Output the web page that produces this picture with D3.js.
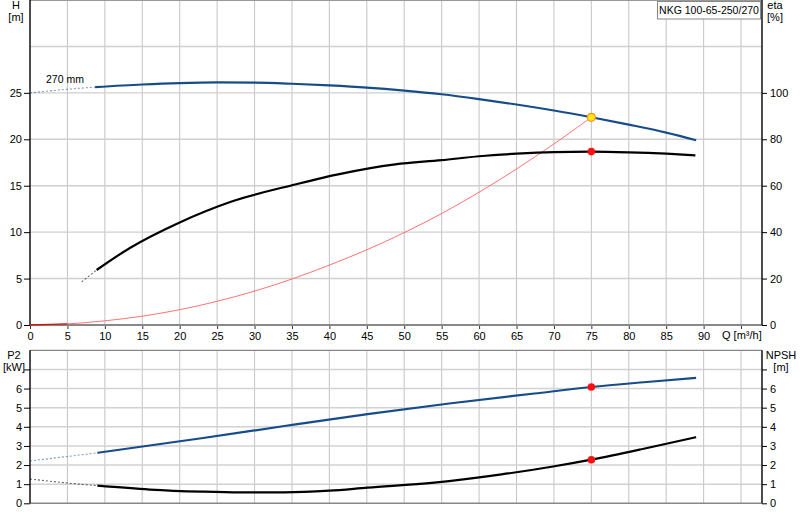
<!DOCTYPE html>
<html><head><meta charset="utf-8">
<script src="https://cdn.jsdelivr.net/npm/d3@7"></script>
<style>
body{margin:0;background:#fff}
text{font-family:"Liberation Sans",Arial,sans-serif;fill:#000}
</style>
</head><body>
<svg id="c" width="800" height="520"></svg>
<script>
// ---------- data ----------
const title = "NKG 100-65-250/270";
const curveLabel = "270 mm";
const qGrid = [5,10,15,20,25,30,35,40,45,50,55,60,65,70,75,80,85,90,95];
const qLabels = [0,5,10,15,20,25,30,35,40,45,50,55,60,65,70,75,80,85,90];
const hTicks = [0,5,10,15,20,25];
const hGrid = [5,10,15,20,25,30];
const etaTicks = [0,20,40,60,80,100];
const lowTicks = [0,1,2,3,4,5,6,7];
const lowLabels = [0,1,2,3,4,5,6];

// pump head H [m]
const headDashQ = [0, 4, 8.7];
const headDashH = [25.0, 25.32, 25.62];
const headQ = [8.7, 15, 20, 25, 30, 35, 40, 45, 50, 55, 60, 65, 70, 75, 80, 85, 89];
const headH = [25.62, 25.9, 26.05, 26.12, 26.1, 25.98, 25.8, 25.57, 25.25, 24.85, 24.33, 23.75, 23.1, 22.37, 21.58, 20.72, 19.89];

// efficiency eta [%]
const etaDashQ = [6.9, 8.9];
const etaDashV = [18.6, 23.7];
const etaQ = [8.9, 13.4, 20, 26.75, 35, 41, 48.8, 55, 60, 65, 70, 75, 80, 85, 88.9];
const etaV = [23.7, 33.3, 44.2, 53.0, 60.2, 64.8, 69.2, 71.0, 72.7, 73.8, 74.5, 74.7, 74.4, 73.8, 73.1];

// system curve H [m]
const sysQ = [0, 5, 10, 15, 20, 25, 30, 35, 40, 45, 50, 55, 60, 65, 70, 75];
const sysH = [0, 0.12, 0.45, 0.95, 1.65, 2.55, 3.65, 4.95, 6.45, 8.1, 9.95, 12.0, 14.3, 16.8, 19.5, 22.37];

// power P2 [kW]
const p2DashQ = [0, 9];
const p2DashV = [2.21, 2.64];
const p2Q = [9, 22.9, 34, 45.1, 56, 67.4, 75, 82, 89];
const p2V = [2.64, 3.40, 4.04, 4.66, 5.22, 5.74, 6.08, 6.33, 6.56];

// NPSH [m]
const npshDashQ = [0, 4.5, 9];
const npshDashV = [1.27, 1.08, 0.92];
const npshQ = [9, 16, 22.9, 28, 34, 40, 45.1, 54, 63, 69.7, 75, 82, 89];
const npshV = [0.92, 0.72, 0.61, 0.57, 0.57, 0.66, 0.82, 1.08, 1.51, 1.91, 2.28, 2.85, 3.46];

// duty point
const dutyQ = [75];
const dutyH = [22.37];
const dutyEta = [74.7];
const dutyP2 = [6.08];
const dutyNpsh = [2.28];

// ---------- layout ----------
const BLUE = "#174c8a";
const svg = d3.select("#c");
const x = d3.scaleLinear().domain([0, 97.8]).range([30, 762]);
const yH = d3.scaleLinear().domain([0, 35]).range([325, 0]);
const yEta = d3.scaleLinear().domain([0, 140]).range([325, 0]);
const yLow = d3.scaleLinear().domain([0, 8]).range([503.3, 350.3]);
const xL = x(0), xR = x(97.8);

const zip = (a, b) => a.map((v, i) => [v, b[i]]);

// ---------- grids ----------
const grid = svg.append("g");
grid.selectAll(".vt").data(qGrid).join("line")
  .attr("x1", d => x(d)).attr("x2", d => x(d))
  .attr("y1", yH(35)).attr("y2", yH(0))
  .attr("stroke", "#c8c8c8").attr("stroke-width", 1.1);
grid.selectAll(".ht").data(hGrid).join("line")
  .attr("x1", xL).attr("x2", xR)
  .attr("y1", d => yH(d)).attr("y2", d => yH(d))
  .attr("stroke", "#cfcfcf").attr("stroke-width", 1.4);
grid.selectAll(".vb").data(qGrid).join("line")
  .attr("x1", d => x(d)).attr("x2", d => x(d))
  .attr("y1", yLow(8)).attr("y2", yLow(0))
  .attr("stroke", "#c8c8c8").attr("stroke-width", 1.1);
grid.selectAll(".hb").data(lowTicks.filter(d => d > 0)).join("line")
  .attr("x1", xL).attr("x2", xR)
  .attr("y1", d => yLow(d)).attr("y2", d => yLow(d))
  .attr("stroke", "#d2d2d2").attr("stroke-width", 1.5);

// borders
svg.append("line").attr("x1", xL).attr("x2", xR).attr("y1", yH(35) + 0.5).attr("y2", yH(35) + 0.5)
  .attr("stroke", "#999").attr("stroke-width", 1.2);
svg.append("line").attr("x1", xL).attr("x2", xR).attr("y1", yLow(8)).attr("y2", yLow(8))
  .attr("stroke", "#888").attr("stroke-width", 1.3);
svg.append("line").attr("x1", xL).attr("x2", xR).attr("y1", yLow(0)).attr("y2", yLow(0))
  .attr("stroke", "#888").attr("stroke-width", 1.5);

// ---------- axes ----------
function styleAxis(g) {
  g.select(".domain").remove();
  g.selectAll(".tick line").attr("stroke", "#000");
  g.selectAll(".tick text").style("font-size", "11px").attr("fill", "#000");
}
// top x axis
const xAxisG = svg.append("g").attr("transform", `translate(0,${yH(0)})`)
  .call(d3.axisBottom(x).tickValues(qGrid.concat([0])).tickSize(4).tickPadding(3)
    .tickFormat(d => qLabels.includes(d) ? d : ""));
styleAxis(xAxisG);
xAxisG.selectAll(".tick line").attr("stroke", "#333");
svg.append("line").attr("x1", xL).attr("x2", xR).attr("y1", yH(0)).attr("y2", yH(0))
  .attr("stroke", "#888").attr("stroke-width", 2);
svg.append("text").attr("x", 722).attr("y", 338.5).style("font-size", "11px").text("Q [m³/h]");

// left H axis
const hAxis = svg.append("g").attr("transform", `translate(${xL},0)`)
  .call(d3.axisLeft(yH).tickValues(hTicks).tickSize(6).tickPadding(2));
styleAxis(hAxis);
svg.append("line").attr("x1", xL).attr("x2", xL).attr("y1", 0).attr("y2", yH(0))
  .attr("stroke", "#000").attr("stroke-width", 1.4);
// right eta axis
const eAxis = svg.append("g").attr("transform", `translate(${xR},0)`)
  .call(d3.axisRight(yEta).tickValues(etaTicks).tickSize(5).tickPadding(3));
styleAxis(eAxis);
svg.append("line").attr("x1", xR).attr("x2", xR).attr("y1", 0).attr("y2", yH(0))
  .attr("stroke", "#000").attr("stroke-width", 1.4);

// bottom left axis
const pAxis = svg.append("g").attr("transform", `translate(${xL},0)`)
  .call(d3.axisLeft(yLow).tickValues(lowTicks).tickSize(6).tickPadding(2)
    .tickFormat(d => lowLabels.includes(d) ? d : ""));
styleAxis(pAxis);
svg.append("line").attr("x1", xL).attr("x2", xL).attr("y1", yLow(8)).attr("y2", yLow(0))
  .attr("stroke", "#000").attr("stroke-width", 1.4);
// bottom right axis
const nAxis = svg.append("g").attr("transform", `translate(${xR},0)`)
  .call(d3.axisRight(yLow).tickValues(lowTicks).tickSize(5).tickPadding(3)
    .tickFormat(d => lowLabels.includes(d) ? d : ""));
styleAxis(nAxis);
svg.append("line").attr("x1", xR).attr("x2", xR).attr("y1", yLow(8)).attr("y2", yLow(0))
  .attr("stroke", "#000").attr("stroke-width", 1.4);

// axis titles
function label(xp, y1, t1, t2, anchor) {
  svg.append("text").attr("x", xp).attr("y", y1).attr("text-anchor", anchor).style("font-size", "11px").text(t1);
  svg.append("text").attr("x", xp).attr("y", y1 + 12).attr("text-anchor", anchor).style("font-size", "11px").text(t2);
}
label(16, 9, "H", "[m]", "middle");
label(775, 9, "eta", "[%]", "middle");
label(14, 359, "P2", "[kW]", "middle");
label(781, 359, "NPSH", "[m]", "middle");

// title box
svg.append("rect").attr("x", 657.5).attr("y", 1.5).attr("width", 103).attr("height", 17.5)
  .attr("fill", "#fff").attr("stroke", "#888").attr("stroke-width", 1);
svg.append("text").attr("x", 709).attr("y", 14).attr("text-anchor", "middle")
  .style("font-size", "10.5px").text(title);

// ---------- curves ----------
function drawLine(qs, vs, yS, color, width, dash, opacity, curve) {
  const line = d3.line().x(d => x(d[0])).y(d => yS(d[1])).curve(curve || d3.curveMonotoneX);
  svg.append("path").datum(zip(qs, vs)).attr("d", line)
    .attr("fill", "none").attr("stroke", color).attr("stroke-width", width)
    .attr("stroke-dasharray", dash || null).attr("stroke-opacity", opacity || 1)
    .attr("stroke-linecap", "butt");
}
// system curve
drawLine(sysQ, sysH, yH, "#ff5a5a", 1, null, 0.85, d3.curveCatmullRom);
drawLine(sysQ.slice(0, 2), sysH.slice(0, 2), yH, "#cc0000", 1.3, null, 0.8);
// head
drawLine(headDashQ, headDashH, yH, BLUE, 1.1, "2,2", 0.55);
drawLine(headQ, headH, yH, BLUE, 2.2);
// eta
drawLine(etaDashQ, etaDashV, yEta, "#000", 1.1, "2,2", 0.6);
drawLine(etaQ, etaV, yEta, "#000", 2.2);
// P2
drawLine(p2DashQ, p2DashV, yLow, BLUE, 1.1, "2,2", 0.55);
drawLine(p2Q, p2V, yLow, BLUE, 2.2);
// NPSH
drawLine(npshDashQ, npshDashV, yLow, "#000", 1.1, "2,2", 0.6);
drawLine(npshQ, npshV, yLow, "#000", 2.2);

// curve label
svg.append("text").attr("x", 46).attr("y", 83).style("font-size", "10.5px").text(curveLabel);

// duty points
svg.selectAll(".dEta").data(zip(dutyQ, dutyEta)).join("circle")
  .attr("cx", d => x(d[0])).attr("cy", d => yEta(d[1])).attr("r", 3.8).attr("fill", "#ff1010");
svg.selectAll(".dP2").data(zip(dutyQ, dutyP2)).join("circle")
  .attr("cx", d => x(d[0])).attr("cy", d => yLow(d[1])).attr("r", 3.8).attr("fill", "#ff1010");
svg.selectAll(".dN").data(zip(dutyQ, dutyNpsh)).join("circle")
  .attr("cx", d => x(d[0])).attr("cy", d => yLow(d[1])).attr("r", 3.8).attr("fill", "#ff1010");
svg.selectAll(".dH").data(zip(dutyQ, dutyH)).join("circle")
  .attr("cx", d => x(d[0])).attr("cy", d => yH(d[1])).attr("r", 4)
  .attr("fill", "#ffe81a").attr("stroke", "#ff8c1a").attr("stroke-width", 1.2);
</script>
</body></html>
